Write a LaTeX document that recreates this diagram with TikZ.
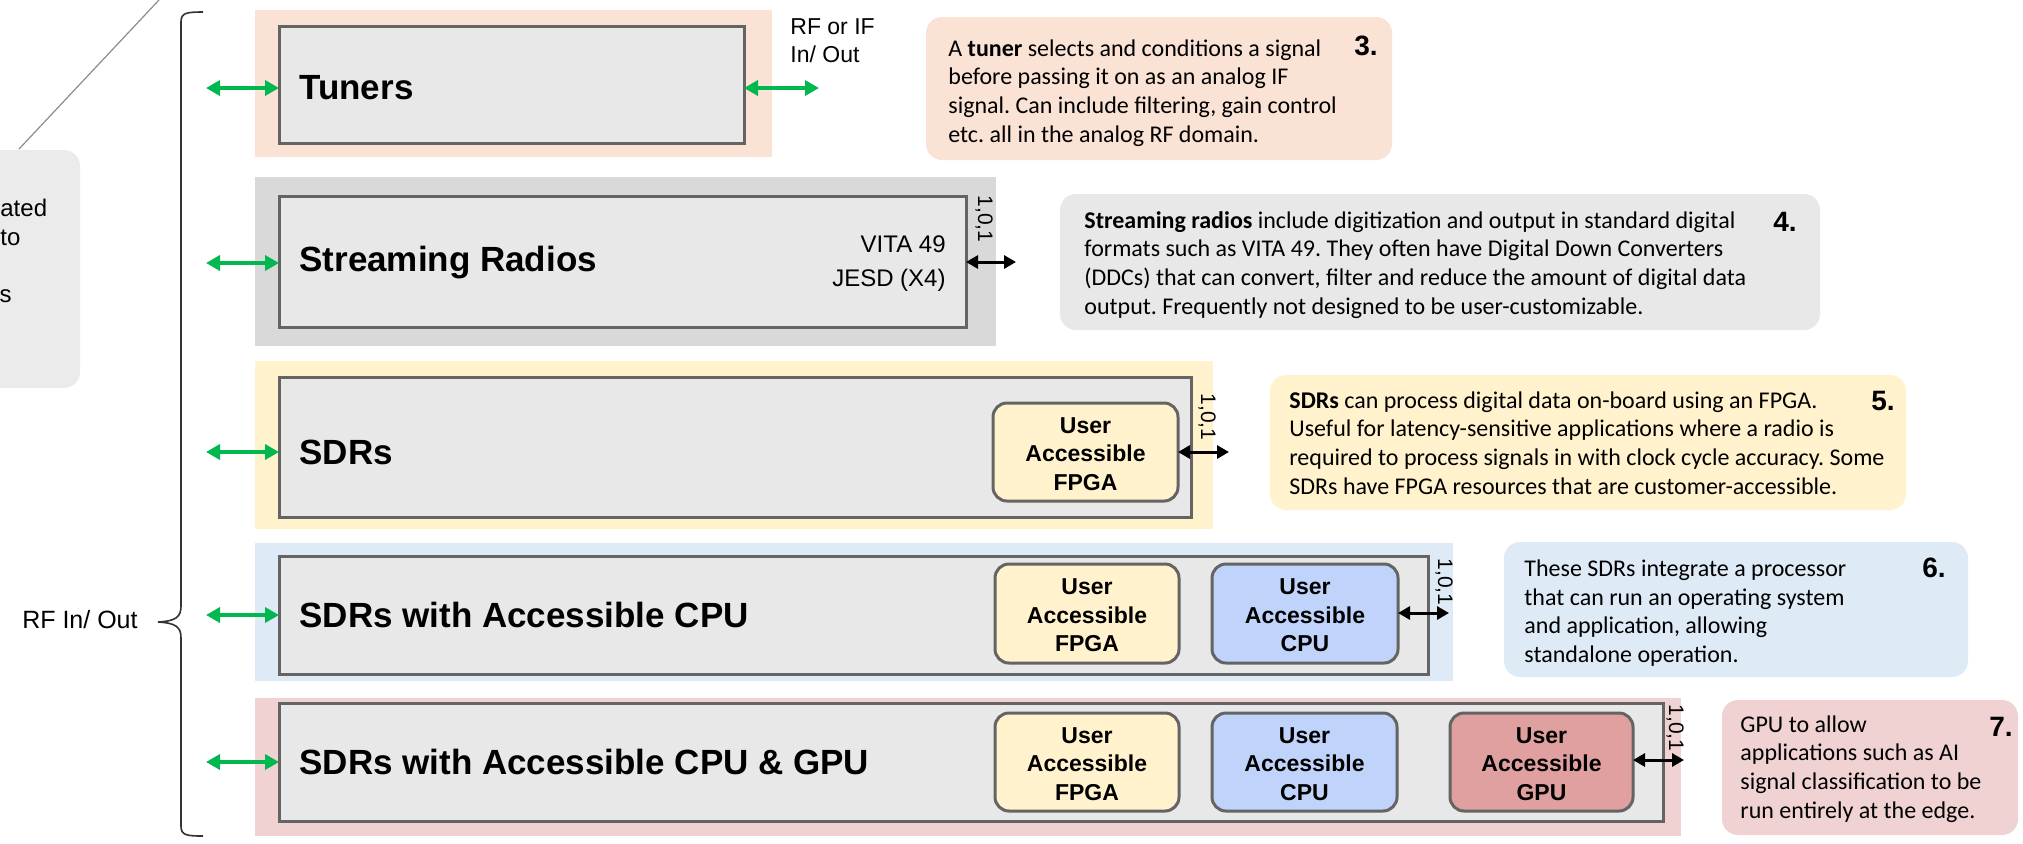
\documentclass[tikz,border=0pt]{standalone}
\usepackage{fontspec}
\setmainfont{Liberation Sans}
\newfontfamily\carl{Carlito}
\usetikzlibrary{arrows.meta,fit}
\definecolor{peach}{HTML}{FAE2D5}
\definecolor{graybg}{HTML}{D9D9D9}
\definecolor{yel}{HTML}{FFF2CC}
\definecolor{lblue}{HTML}{DEEAF6}
\definecolor{pink}{HTML}{F1D2D3}
\definecolor{boxgray}{HTML}{E8E8E8}
\definecolor{edge}{HTML}{646464}
\definecolor{cpucol}{HTML}{C0D3FB}
\definecolor{gpucol}{HTML}{E0A0A0}
\definecolor{leftgray}{HTML}{EBEBEB}
\definecolor{grn}{HTML}{00B84F}
\frenchspacing
\begin{document}
\begin{tikzpicture}[x=0.5pt,y=-0.5pt,
  band/.style={fill=#1,draw=none,inner sep=0pt,outer sep=0pt},
  inbox/.style={fill=boxgray,draw=edge,line width=1.5pt,inner sep=0pt,outer sep=0pt},
  sub/.style={fill=#1,draw=edge,line width=1.5pt,rounded corners=7pt,inner sep=0pt,outer sep=0pt},
  subtext/.style={inner sep=0pt,align=center,font=\bfseries\fontsize{11.5}{14.3}\selectfont},
  desc/.style={fill=#1,draw=none,rounded corners=8pt,inner sep=0pt,outer sep=0pt},
  dtext/.style={anchor=west,align=left,inner sep=0pt,font=\carl\fontsize{12}{14.4}\selectfont},
  num/.style={inner sep=0pt,font=\bfseries\fontsize{14}{16}\selectfont},
  title/.style={anchor=west,inner sep=0pt,font=\bfseries\fontsize{17.5}{20}\selectfont},
  lbl/.style={inner sep=0pt,font=\fontsize{12}{13.8}\selectfont},
  bits/.style={inner sep=0pt,rotate=-90,font=\fontsize{10.5}{12}\selectfont},
  garrow/.style={draw=grn,line width=2pt,{Triangle[length=7pt,width=7.5pt]}-{Triangle[length=7pt,width=7.5pt]}},
  karrow/.style={draw=black,line width=1.5pt,{Triangle[length=6pt,width=6.5pt]}-{Triangle[length=6pt,width=6.5pt]}}
]
\useasboundingbox (0,0) rectangle (2023,843);

% left partial box
\node[desc=leftgray,fit={(-60,150) (80,388)}] (lb) {};
\node[lbl,anchor=west] (lt1) at (0,208) {ated};
\node[lbl,anchor=west] (lt2) at (0,238) {to};
\node[lbl,anchor=east] (lt3) at (12,296) {s};
\coordinate (dbot) at (19,149);
\coordinate (dtop) at (159,0);
\draw[draw=gray!90,line width=0.6pt] (dbot) -- (dtop);

% brace
\draw[line width=0.8pt,draw=black!80] (203,12) .. controls (186,12) and (181,13) .. (181,22)
  -- (181,606) .. controls (181,617) and (176,621) .. (158,622)
  .. controls (176,623) and (181,627) .. (181,638)
  -- (181,826) .. controls (181,835) and (186,836) .. (203,836);
\node[lbl,anchor=east,font=\fontsize{12.5}{14}\selectfont] (rfio) at (138,620) {RF In/ Out};

% bands
\node[band=peach,fit={(255,10) (772,157)}] (b1) {};
\node[band=graybg,fit={(255,177) (996,346)}] (b2) {};
\node[band=yel,fit={(255,361) (1213,529)}] (b3) {};
\node[band=lblue,fit={(255,543) (1453,681)}] (b4) {};
\node[band=pink,fit={(255,698) (1681,836)}] (b5) {};

% inner boxes
\node[inbox,fit={(279,26) (744,143)}] (i1) {};
\node[inbox,fit={(279,196) (966,327)}] (i2) {};
\node[inbox,fit={(279,377) (1191,517)}] (i3) {};
\node[inbox,fit={(279,556) (1428,674)}] (i4) {};
\node[inbox,fit={(279,703) (1663,821)}] (i5) {};

% titles
\node[title] (t1) at (299,88) {Tuners};
\node[title] (t2) at (299,263) {Streaming Radios};
\node[title] (t3) at (299,452) {SDRs};
\node[title] (t4) at (299,615) {SDRs with Accessible CPU};
\node[title] (t5) at (299,762) {SDRs with Accessible CPU \& GPU};

% streaming labels
\node[lbl,anchor=east] (vita) at (946,244) {VITA 49};
\node[lbl,anchor=east] (jesd) at (946,280) {JESD (X4)};

% sub boxes
\node[sub=yel,fit={(993,403) (1178,501)}] (f3) {};
\node[subtext] (f3t) at ([yshift=-1pt]f3.center) {User\\Accessible\\FPGA};
\node[sub=yel,fit={(995,564) (1179,663)}] (f4) {};
\node[subtext] (f4t) at ([yshift=-1pt]f4.center) {User\\Accessible\\FPGA};
\node[sub=cpucol,fit={(1212,564) (1398,663)}] (c4) {};
\node[subtext] (c4t) at ([yshift=-1pt]c4.center) {User\\Accessible\\CPU};
\node[sub=yel,fit={(995,713) (1179,811)}] (f5) {};
\node[subtext] (f5t) at ([yshift=-1pt]f5.center) {User\\Accessible\\FPGA};
\node[sub=cpucol,fit={(1212,713) (1397,811)}] (c5) {};
\node[subtext] (c5t) at ([yshift=-1pt]c5.center) {User\\Accessible\\CPU};
\node[sub=gpucol,fit={(1450,713) (1633,811)}] (g5) {};
\node[subtext] (g5t) at ([yshift=-1pt]g5.center) {User\\Accessible\\GPU};

% green arrows
\coordinate (g1) at (206,88);
\coordinate (g2) at (206,263);
\coordinate (g3) at (206,452);
\coordinate (g4) at (206,615);
\coordinate (g5l) at (206,762);
\draw[garrow] (g1) -- (g1 -| i1.west);
\draw[garrow] (g2) -- (g2 -| i2.west);
\draw[garrow] (g3) -- (g3 -| i3.west);
\draw[garrow] (g4) -- (g4 -| i4.west);
\draw[garrow] (g5l) -- (g5l -| i5.west);
\coordinate (gr1) at (819,88);
\draw[garrow] (i1.east |- gr1) -- (gr1);
\node[lbl,anchor=west,align=left,font=\fontsize{11.5}{14}\selectfont] (rfif) at (790,41) {RF or IF\\In/ Out};

% black arrows
\coordinate (k2) at (1016,262);
\draw[karrow] (i2.east |- k2) -- (k2);
\coordinate (k3) at (1229,452);
\draw[karrow] (f3.east |- k3) -- (k3);
\coordinate (k4) at (1449,613);
\draw[karrow] (c4.east |- k4) -- (k4);
\coordinate (k5) at (1684,760);
\draw[karrow] (g5.east |- k5) -- (k5);

% 1,0,1 labels
\node[bits] (n2) at (984,219) {1,0,1};
\node[bits] (n3) at (1207,417) {1,0,1};
\node[bits] (n4) at (1444,582) {1,0,1};
\node[bits] (n5) at (1675,728) {1,0,1};

% description boxes
\node[desc=peach,fit={(926,17) (1392,160)}] (d3) {};
\node[dtext] (d3t) at (948,93) {A \textbf{tuner} selects and conditions a signal\\before passing it on as an analog IF\\signal. Can include filtering, gain control\\etc. all in the analog RF domain.};
\node[num] (d3n) at (1366,46) {3.};

\node[desc=boxgray,fit={(1060,194) (1820,330)}] (d4) {};
\node[dtext] (d4t) at (1084,265) {\textbf{Streaming radios} include digitization and output in standard digital\\formats such as VITA 49. They often have Digital Down Converters\\(DDCs) that can convert, filter and reduce the amount of digital data\\output. Frequently not designed to be user-customizable.};
\node[num] (d4n) at (1785,222) {4.};

\node[desc=yel,fit={(1270,375) (1906,510)}] (d5) {};
\node[dtext] (d5t) at (1289,443) {\textbf{SDRs} can process digital data on-board using an FPGA.\\Useful for latency-sensitive applications where a radio is\\required to process signals in with clock cycle accuracy. Some\\SDRs have FPGA resources that are customer-accessible.};
\node[num] (d5n) at (1883,401) {5.};

\node[desc=lblue,fit={(1504,542) (1968,677)}] (d6) {};
\node[dtext] (d6t) at (1524,613) {These SDRs integrate a processor\\that can run an operating system\\and application, allowing\\standalone operation.};
\node[num] (d6n) at (1934,568) {6.};

\node[desc=pink,fit={(1722,700) (2018,835)}] (d7) {};
\node[dtext] (d7t) at (1740,769) {GPU to allow\\applications such as AI\\signal classification to be\\run entirely at the edge.};
\node[num] (d7n) at (2001,727) {7.};
\end{tikzpicture}
\end{document}
